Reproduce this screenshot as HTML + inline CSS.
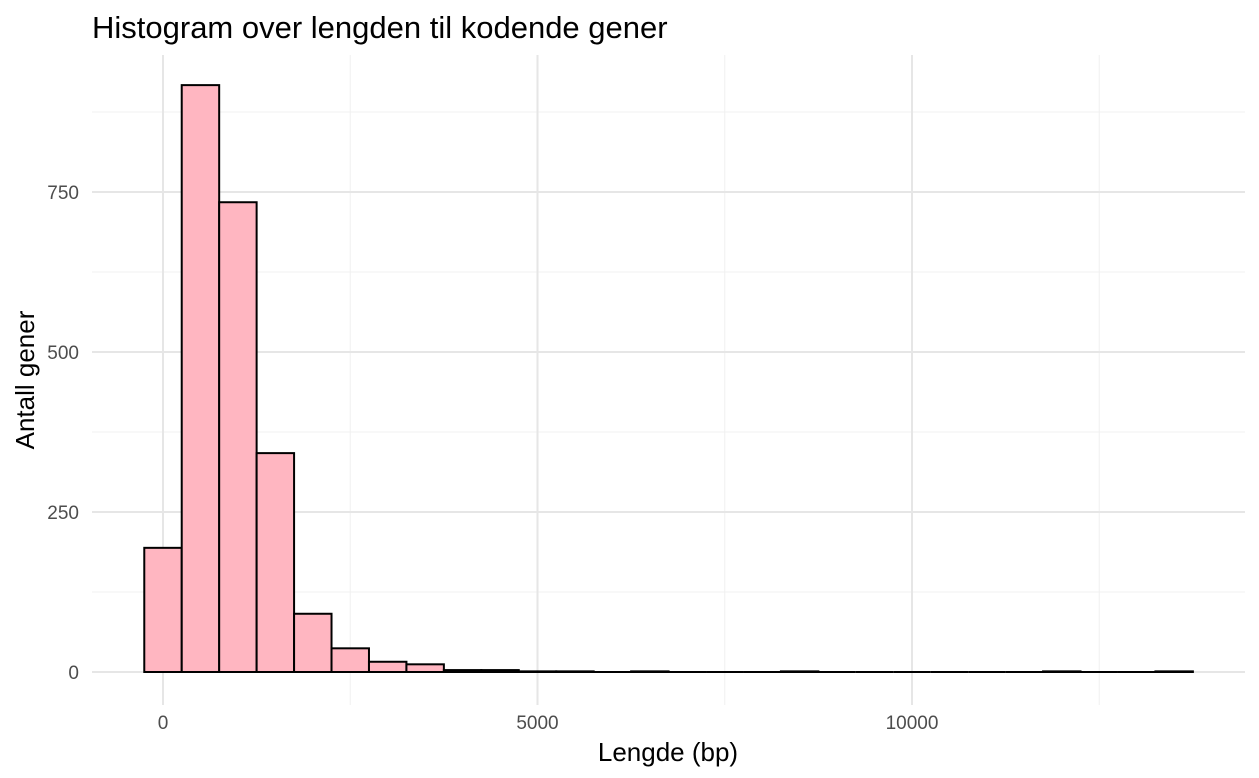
<!DOCTYPE html>
<html><head><meta charset="utf-8"><style>
body{margin:0;background:#fff;}
svg{display:block;font-family:"Liberation Sans",sans-serif;}
</style></head><body>
<svg id="chart" width="1259" height="778">
<text x="92" y="38" font-size="31" fill="#000">Histogram over lengden til kodende gener</text>
<g id="grid"></g><g id="bars"></g><g id="ticks"></g>
<text x="668" y="761" font-size="26" text-anchor="middle" fill="#000">Lengde (bp)</text>
<text transform="translate(34,380) rotate(-90)" font-size="26" text-anchor="middle" fill="#000">Antall gener</text>
</svg>
<script>
const binCenters=[0,500,1000,1500,2000,2500,3000,3500,4000,4500,5000,5500,6000,6500,7000,7500,8000,8500,9000,9500,10000,10500,11000,11500,12000,12500,13000,13500];
const counts=[194,917,734,342,91,37,16,12,3,3,1,1,0,1,0,0,0,1,0,0,0,0,0,0,1,0,0,1];
const binWidth=500;
const xTicks=[0,5000,10000];
const xMinor=[2500,7500,12500];
const yTicks=[0,250,500,750];
const yMinor=[125,375,625,875];
const X=v=>163+v*0.0749;
const Y=v=>672-v*0.64;
const ns="http://www.w3.org/2000/svg";
function mk(p,t,a){const e=document.createElementNS(ns,t);for(const k in a)e.setAttribute(k,a[k]);p.appendChild(e);return e;}
const grid=document.getElementById('grid'),bars=document.getElementById('bars'),ticks=document.getElementById('ticks');
yMinor.forEach(v=>{const l=mk(grid,'line',{x1:92,x2:1245,y1:Y(v),y2:Y(v),stroke:'#f0f0f0','stroke-width':1});

});
xMinor.forEach(v=>{const l=mk(grid,'line',{x1:X(v),x2:X(v),y1:55,y2:705,stroke:'#f0f0f0','stroke-width':1});

});
yTicks.forEach(v=>{const l=mk(grid,'line',{x1:92,x2:1245,y1:Y(v),y2:Y(v),stroke:'#e6e6e6','stroke-width':2});


const t=mk(ticks,'text',{x:79,y:Y(v)+7,'font-size':19,'text-anchor':'end',fill:'#4d4d4d'});t.textContent=v;

});
xTicks.forEach(v=>{const l=mk(grid,'line',{x1:X(v),x2:X(v),y1:55,y2:705,stroke:'#e6e6e6','stroke-width':2});


const t=mk(ticks,'text',{x:X(v),y:729,'font-size':19,'text-anchor':'middle',fill:'#4d4d4d'});t.textContent=v;

});
binCenters.forEach((c,i)=>{const x0=X(c-binWidth/2),x1=X(c+binWidth/2),y=Y(counts[i]);
if(counts[i]>0){
const r=mk(bars,'rect',{x:x0,y:y,width:x1-x0,height:672-y,fill:'#ffb6c1',stroke:'#000','stroke-width':2});


}else{
const r=mk(bars,'line',{x1:x0,x2:x1,y1:672,y2:672,stroke:'#000','stroke-width':2});


}});
</script>
</body></html>
